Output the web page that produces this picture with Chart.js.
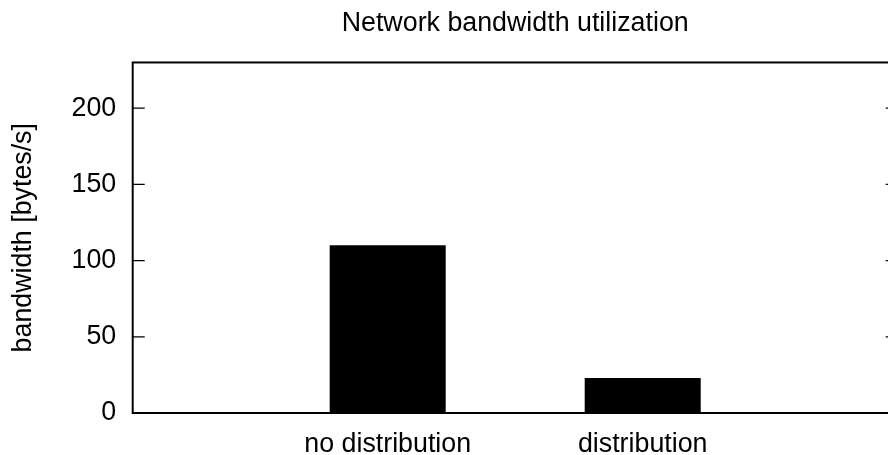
<!DOCTYPE html>
<html>
<head>
<meta charset="utf-8">
<title>Network bandwidth utilization</title>
<script src="https://cdn.jsdelivr.net/npm/chart.js@4"></script>
<style>
  html, body { margin: 0; padding: 0; background: #fff; overflow: hidden; }
  #wrap { width: 900px; height: 455px; }
</style>
</head>
<body>
<div id="wrap"><canvas id="chart" width="900" height="455"></canvas></div>
<script>
//===========================================================================================
// ~~ DATA ~~
var categories = ["no distribution", "distribution"];
var bandwidth = [110, 23];           // bytes/s
var yTicks = [0, 50, 100, 150, 200];
var yMax = 230;

var FONT = 26.8;

//===========================================================================================
// ~~ FRAME + INWARD TICKS (gnuplot style box) ~~
var frame = {
  id: 'frame',
  afterDatasetsDraw: function(chart) {
    var ctx = chart.ctx, a = chart.chartArea, y = chart.scales.y;
    ctx.save();
    ctx.strokeStyle = '#000';
    ctx.lineWidth = 1.2;
    yTicks.forEach(function(v) {
      var py = y.getPixelForValue(v);
      ctx.beginPath();
      ctx.moveTo(a.left, py); ctx.lineTo(a.left + 12, py);
      ctx.moveTo(a.right, py); ctx.lineTo(a.right - 12, py);
      ctx.stroke();
    });
    ctx.lineWidth = 2;
    ctx.strokeRect(a.left, a.top, a.right - a.left, a.bottom - a.top);
    ctx.restore();
  }
};

//===========================================================================================
// ~~ BAR CHART ~~
Chart.defaults.font.family = "'Liberation Sans', Arial, Helvetica, sans-serif";
Chart.defaults.font.size = FONT;
Chart.defaults.color = '#000';

var points = bandwidth.map(function(v, i) { return { x: i + 1, y: v }; });

new Chart(document.getElementById('chart'), {
  type: 'bar',
  data: {
    datasets: [{
      label: 'bandwidth',
      data: points,
      backgroundColor: '#000',
      borderColor: '#000',
      borderWidth: 0,
      barPercentage: 0.455,
      categoryPercentage: 1
    }]
  },
  options: {
    responsive: false,
    animation: false,
    devicePixelRatio: 1,
    layout: { padding: { top: 0, right: 2.3, bottom: 0, left: 0 } },
    plugins: {
      legend: { display: false },
      tooltip: { enabled: false },
      title: {
        display: true,
        text: 'Network bandwidth utilization',
        fullSize: false,
        font: { size: FONT, weight: 'normal' },
        color: '#000',
        padding: { top: 7.5, bottom: 22.8 }
      }
    },
    scales: {
      x: {
        type: 'linear',
        min: 0,
        max: categories.length + 1,
        offset: false,
        grid: { display: false, offset: false },
        border: { display: false },
        afterBuildTicks: function(scale) {
          scale.ticks = categories.map(function(c, i) { return { value: i + 1 }; });
        },
        afterFit: function(scale) { scale.height = 42; },
        ticks: {
          autoSkip: false,
          maxRotation: 0,
          padding: 8,
          callback: function(v) { return categories[v - 1] || ''; }
        }
      },
      y: {
        min: 0,
        max: yMax,
        grid: { display: false },
        border: { display: false },
        afterFit: function(scale) { scale.width = 132.7; },
        ticks: { stepSize: 50, includeBounds: false, padding: 8.5 },
        title: {
          display: true,
          text: 'bandwidth [bytes/s]',
          font: { size: FONT },
          padding: { top: 7.1, bottom: 0 }
        }
      }
    }
  },
  plugins: [frame]
});
</script>
</body>
</html>
